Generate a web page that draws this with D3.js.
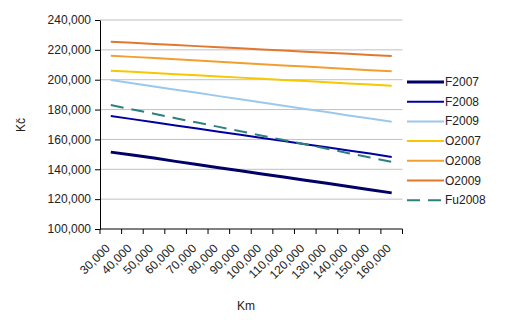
<!DOCTYPE html>
<html>
<head>
<meta charset="utf-8">
<script src="https://cdn.jsdelivr.net/npm/d3@7"></script>
<style>
  body { margin: 0; background: white; }
  svg { font-family: "Liberation Sans", Arial, sans-serif; }
</style>
</head>
<body>
<div id="container"></div>
<script>
let w = 506;
let h = 320;

// DATA
let km = ["30,000","40,000","50,000","60,000","70,000","80,000","90,000",
          "100,000","110,000","120,000","130,000","140,000","150,000","160,000"];
let F2007 = [151500,149500,147500,145300,143200,141100,139000,136900,134800,132700,130600,128500,126300,124200];
let F2008 = [175700,173600,171500,169400,167300,165200,163100,161000,158900,156800,154700,152600,150500,148300];
let F2009 = [199800,197600,195500,193300,191200,189000,186900,184700,182600,180400,178300,176100,174000,171900];
let O2007 = [206000,205300,204500,203700,203000,202200,201400,200600,199800,199100,198300,197500,196800,196000];
let O2008 = [216100,215300,214500,213700,212900,212000,211200,210400,209600,208800,208000,207200,206400,205600];
let O2009 = [225500,224800,224000,223300,222500,221800,221100,220300,219600,218800,218100,217400,216600,215900];
let Fu2008 = [183000,180100,177200,174200,171300,168400,165500,162500,159600,156700,153800,150800,147900,145000];
let yTicks = [100000,120000,140000,160000,180000,200000,220000,240000];

let series = [
  {name:"F2007", values:F2007, color:"#000066", width:3, dash:null},
  {name:"F2008", values:F2008, color:"#0000a0", width:2, dash:null},
  {name:"F2009", values:F2009, color:"#9cc8ec", width:2, dash:null},
  {name:"O2007", values:O2007, color:"#f5c800", width:2, dash:null},
  {name:"O2008", values:O2008, color:"#f0a030", width:2, dash:null},
  {name:"O2009", values:O2009, color:"#e07830", width:2, dash:null},
  {name:"Fu2008", values:Fu2008, color:"#2e7f7f", width:2, dash:"13,8"}
];

let viz = d3.select("#container").append("svg")
    .attr("width", w)
    .attr("height", h)
    .style("background-color", "white");

// SCALES
let xScale = d3.scaleBand().domain(km).range([100, 402.5]);
let yScale = d3.scaleLinear().domain([100000, 240000]).range([229, 20]);

// gridlines
viz.selectAll(".grid").data(yTicks.slice(1)).enter()
  .append("line")
    .attr("class", "grid")
    .attr("x1", 100).attr("x2", 402.5)
    .attr("y1", d => yScale(d)).attr("y2", d => yScale(d))
    .attr("stroke", "#c0c0c0")
    .attr("stroke-width", 1);

// y axis
let yAxis = d3.axisLeft(yScale).tickValues(yTicks).tickSize(5).tickSizeOuter(0)
  .tickFormat(d3.format(","));
let yG = viz.append("g").attr("transform", "translate(100,0)").call(yAxis);
yG.select(".domain").attr("stroke", "black");
yG.selectAll("text").attr("font-size", 12).attr("fill", "#222").attr("x", -9);

// x axis
let xG = viz.append("g").attr("transform", "translate(0,229)");
xG.append("line").attr("x1", 100).attr("x2", 402.5).attr("stroke", "black");
let tickPos = km.map(d => xScale(d)).concat([402.5]);
xG.selectAll(".xt").data(tickPos).enter()
  .append("line")
    .attr("class", "xt")
    .attr("x1", d => d).attr("x2", d => d)
    .attr("y1", 0).attr("y2", 5)
    .attr("stroke", "black");
xG.selectAll(".xl").data(km).enter()
  .append("text")
    .attr("class", "xl")
    .attr("font-size", 12)
    .attr("fill", "#222")
    .attr("text-anchor", "end")
    .attr("transform", d => "translate(" + (xScale(d) + xScale.bandwidth() / 2) + ",20) rotate(-45)")
    .text(d => d);

// LINES
let lineMaker = d3.line()
  .x((d, i) => xScale(km[i]) + xScale.bandwidth() / 2)
  .y(d => yScale(d));

viz.selectAll(".series").data(series).enter()
  .append("path")
    .attr("class", "series")
    .attr("d", d => lineMaker(d.values))
    .attr("fill", "none")
    .attr("stroke", d => d.color)
    .attr("stroke-width", d => d.width)
    .attr("stroke-dasharray", d => d.dash);

// axis titles
viz.append("text")
  .attr("transform", "translate(25,125) rotate(-90)")
  .attr("text-anchor", "middle")
  .attr("font-size", 12)
  .attr("fill", "#222")
  .text("Kč");
viz.append("text")
  .attr("x", 246).attr("y", 310)
  .attr("text-anchor", "middle")
  .attr("font-size", 12)
  .attr("fill", "#222")
  .text("Km");

// LEGEND
let legend = viz.selectAll(".legend").data(series).enter()
  .append("g")
    .attr("class", "legend")
    .attr("transform", (d, i) => "translate(407," + (82 + i * 19.7) + ")");
legend.append("line")
  .attr("x1", 0).attr("x2", 37)
  .attr("stroke", d => d.color)
  .attr("stroke-width", d => d.width)
  .attr("stroke-dasharray", d => d.dash);
legend.append("text")
  .attr("x", 38).attr("y", 4)
  .attr("font-size", 12)
  .attr("fill", "#222")
  .text(d => d.name);
</script>
</body>
</html>
